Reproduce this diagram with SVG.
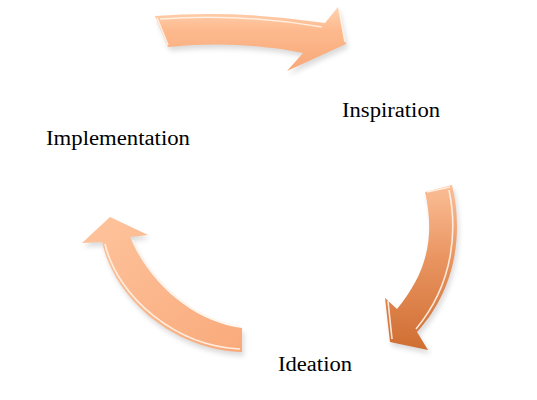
<svg xmlns="http://www.w3.org/2000/svg" width="537" height="400" viewBox="0 0 537 400">
<style>
.lbl{font-family:"Liberation Serif","DejaVu Serif",serif;font-size:20px;fill:#000}
.arrow{stroke:none}
.hl{fill:none;stroke:#FFF3E8;stroke-width:1.6;stroke-linejoin:round;opacity:0.9}
.sh{fill:#9a9a9a;opacity:0.35}
</style>
<defs>
<linearGradient id="gTop" x1="0" y1="0" x2="0" y2="1">
<stop offset="0" stop-color="#FFD3B2"/>
<stop offset="0.35" stop-color="#FDBA8E"/>
<stop offset="1" stop-color="#F8A878"/>
</linearGradient>
<linearGradient id="gRight" x1="0" y1="0" x2="0" y2="1">
<stop offset="0" stop-color="#FBBE96"/>
<stop offset="0.45" stop-color="#E99460"/>
<stop offset="1" stop-color="#CF6E32"/>
</linearGradient>
<linearGradient id="gLeft" x1="0" y1="0" x2="1" y2="1">
<stop offset="0" stop-color="#FEC49D"/>
<stop offset="1" stop-color="#F9AA7B"/>
</linearGradient>
<filter id="blur" x="-20%" y="-20%" width="140%" height="140%">
<feGaussianBlur stdDeviation="2.5"/>
</filter>
</defs>
<g id="connectors">
<g id="arrow-top">
<path class="sh" filter="url(#blur)" transform="translate(2,4)" d="M155,16 Q240,10 325,23 L338,7 L346,44 L287,71 L303,53 Q240,40 168,47 Z"/>
<path class="arrow" fill="url(#gTop)" d="M155,16 Q240,10 325,23 L338,7 L346,44 L287,71 L303,53 Q240,40 168,47 Z"/>
<path class="hl" d="M157,18 L168,45"/>
<path class="hl" d="M160,19 Q240,13 322,27"/>
<path class="hl" d="M339,9 L345,42"/>
</g>
<g id="arrow-right">
<path class="sh" filter="url(#blur)" transform="translate(2,4)" d="M425,192 L452,185 C462,225 460,285 417,332 L428,350 L390,342 L385,298 L397,309 C425,275 436,240 425,192 Z"/>
<path class="arrow" fill="url(#gRight)" d="M425,192 L452,185 C462,225 460,285 417,332 L428,350 L390,342 L385,298 L397,309 C425,275 436,240 425,192 Z"/>
<path class="hl" d="M427,192 L450,187"/>
<path class="hl" d="M449,190 C457,228 455,282 416,329" opacity="0.7"/>
<path class="hl" d="M388,301 L392,339" opacity="0.6"/>
</g>
<g id="arrow-left">
<path class="sh" filter="url(#blur)" transform="translate(2,4)" d="M242,328 C195,322 150,285 130,237 L148,235 L110,217 L82,243 L102,242 C115,300 175,350 242,352 Z"/>
<path class="arrow" fill="url(#gLeft)" d="M242,328 C195,322 150,285 130,237 L148,235 L110,217 L82,243 L102,242 C115,300 175,350 242,352 Z"/>
<path class="hl" d="M105,244 C118,298 176,346 240,349"/>
<path class="hl" d="M133,240 C152,284 196,320 240,326" opacity="0.7"/>
</g>
</g>
<g id="node-inspiration"><text class="lbl" x="342" y="117" textLength="98" lengthAdjust="spacingAndGlyphs">Inspiration</text></g>
<g id="node-ideation"><text class="lbl" x="278" y="371" textLength="74" lengthAdjust="spacingAndGlyphs">Ideation</text></g>
<g id="node-implementation"><text class="lbl" x="46" y="145" textLength="144" lengthAdjust="spacingAndGlyphs">Implementation</text></g>
</svg>
